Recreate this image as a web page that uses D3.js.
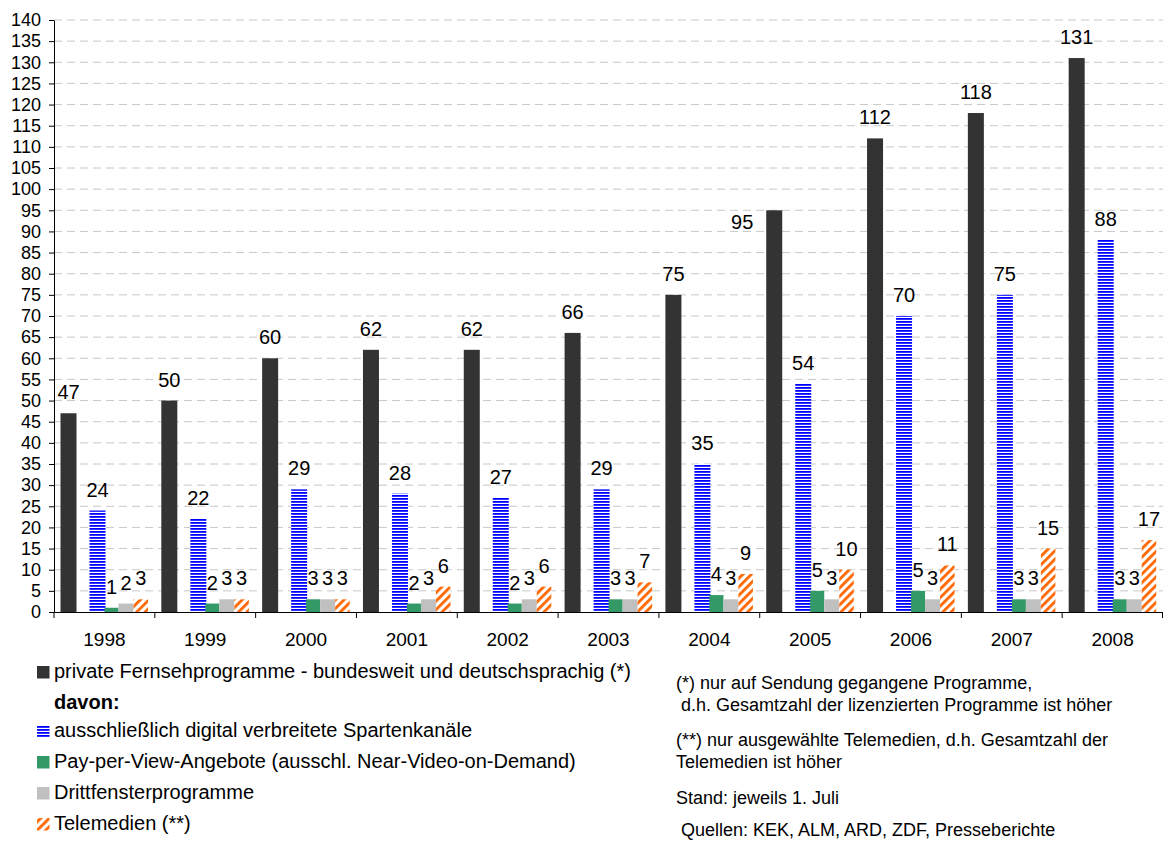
<!DOCTYPE html>
<html>
<head>
<meta charset="utf-8">
<script src="https://cdn.jsdelivr.net/npm/d3@7"></script>
<style>
  body { margin: 0; background: #fff; }
  text { font-family: "Liberation Sans", Arial, sans-serif; fill: #000; }
</style>
</head>
<body>
<div class="chart"></div>
<script>
// data
const years = ['1998','1999','2000','2001','2002','2003','2004','2005','2006','2007','2008'];
const privat = [47, 50, 60, 62, 62, 66, 75, 95, 112, 118, 131];
const digital = [24, 22, 29, 28, 27, 29, 35, 54, 70, 75, 88];
const payPerView = [1, 2, 3, 2, 2, 3, 4, 5, 5, 3, 3];
const drittfenster = [2, 3, 3, 3, 3, 3, 3, 3, 3, 3, 3];
const telemedien = [3, 3, 3, 6, 6, 7, 9, 10, 11, 15, 17];
const yTicks = d3.range(0, 141, 5);

const legendLabels = [
  'private Fernsehprogramme - bundesweit und deutschsprachig (*)',
  'ausschließlich digital verbreitete Spartenkanäle',
  'Pay-per-View-Angebote (ausschl. Near-Video-on-Demand)',
  'Drittfensterprogramme',
  'Telemedien (**)'
];
const notes = [
  '(*) nur auf Sendung gegangene Programme,',
  ' d.h. Gesamtzahl der lizenzierten Programme ist höher',
  '(**) nur ausgewählte Telemedien, d.h. Gesamtzahl der',
  'Telemedien ist höher',
  'Stand: jeweils 1. Juli',
  ' Quellen: KEK, ALM, ARD, ZDF, Presseberichte'
];

const WIDTH = 1163, HEIGHT = 841;
const PLOT = {left: 54, right: 1163, top: 20, bottom: 612};

let svg = d3.select('.chart').append('svg')
  .attr('width', WIDTH)
  .attr('height', HEIGHT);

// patterns
const defs = svg.append('defs');
const pBlue = defs.append('pattern')
  .attr('id', 'blueStripes')
  .attr('patternUnits', 'userSpaceOnUse')
  .attr('width', 6).attr('height', 3);
pBlue.append('rect').attr('width', 6).attr('height', 3).attr('fill', '#fff');
pBlue.append('rect').attr('width', 6).attr('height', 1.8).attr('fill', '#0000ff');

const pOrange = defs.append('pattern')
  .attr('id', 'orangeDiag')
  .attr('patternUnits', 'userSpaceOnUse')
  .attr('width', 6).attr('height', 6)
  .attr('patternTransform', 'rotate(45)');
pOrange.append('rect').attr('width', 6).attr('height', 6).attr('fill', '#fff');
pOrange.append('rect').attr('width', 2.8).attr('height', 6).attr('fill', '#ff6600');

// scales
let x = d3.scaleBand().domain(years).range([PLOT.left, PLOT.right]).padding(0);
let y = d3.scaleLinear().domain([0, 140]).range([PLOT.bottom, PLOT.top]);
const bw = x.bandwidth();
const k = bw / 100.8;

// series: offset/width inside the category (px at 100.8 band)
const series = [
  {values: privat, fill: '#333333', off: 6.5, w: 16},
  {values: digital, fill: 'url(#blueStripes)', off: 35.5, w: 16},
  {values: payPerView, fill: '#339966', off: 50.5, w: 14},
  {values: drittfenster, fill: '#c0c0c0', off: 64.5, w: 15},
  {values: telemedien, fill: 'url(#orangeDiag)', off: 79.5, w: 14.5}
];

// gridlines
svg.append('g').selectAll('line')
  .data(yTicks.filter(d => d > 0))
  .enter().append('line')
  .attr('x1', PLOT.left).attr('x2', PLOT.right)
  .attr('y1', d => y(d)).attr('y2', d => y(d))
  .attr('stroke', '#c8c8c8')
  .attr('stroke-width', 1)
  .attr('stroke-dasharray', '8,5');

// bars + labels
series.forEach(function(s, si) {
  let g = svg.append('g');
  g.selectAll('rect')
    .data(s.values)
    .enter().append('rect')
    .attr('x', (d, i) => x(years[i]) + s.off * k)
    .attr('y', d => y(d))
    .attr('width', s.w * k)
    .attr('height', d => y(0) - y(d))
    .attr('fill', s.fill);

  // the 2005 label sits left of its bar in the original
  const moved = (i) => si === 0 && years[i] === '2005';
  g.selectAll('text')
    .data(s.values)
    .enter().append('text')
    .attr('x', (d, i) => x(years[i]) + (s.off + s.w / 2) * k - (moved(i) ? 32 : 0))
    .attr('y', (d, i) => moved(i) ? y(d) + 19 : y(d) - 14)
    .attr('text-anchor', 'middle')
    .style('font-size', '20px')
    .text(d => d);
});

// y axis
let leftAxis = d3.axisLeft(y).tickValues(yTicks).tickSize(5).tickSizeOuter(0);
let yAxisG = svg.append('g')
  .attr('transform', `translate(${PLOT.left},0)`)
  .call(leftAxis);
yAxisG.selectAll('text').style('font-size', '18px')
  .style('font-family', '"Liberation Sans", Arial, sans-serif')
  .attr('x', -13);
yAxisG.select('.domain').attr('stroke', '#000');

// x axis
let bottomAxis = d3.axisBottom(x).tickSize(0).tickSizeOuter(0);
let xAxisG = svg.append('g')
  .attr('transform', `translate(0,${PLOT.bottom})`)
  .call(bottomAxis);
xAxisG.selectAll('text').style('font-size', '19px')
  .style('font-family', '"Liberation Sans", Arial, sans-serif')
  .attr('y', 21);
xAxisG.select('.domain').attr('stroke', '#000');
xAxisG.selectAll('line.bound')
  .data(years.map(d => x(d)).concat([PLOT.right - 0.5]))
  .enter().append('line')
  .attr('class', 'bound')
  .attr('x1', d => d).attr('x2', d => d)
  .attr('y1', 0).attr('y2', 6)
  .attr('stroke', '#000');

// legend
const legendRows = [672, 731, 762, 793, 824];
let lg = svg.append('g');
legendRows.forEach(function(ry, i) {
  lg.append('rect')
    .attr('x', 37).attr('y', ry - 6)
    .attr('width', 12.5).attr('height', 12.5)
    .attr('fill', series[i].fill);
  lg.append('text')
    .attr('x', 54).attr('y', ry + 6)
    .style('font-size', '20px')
    .text(legendLabels[i]);
});
lg.append('text')
  .attr('x', 54).attr('y', 709)
  .style('font-size', '20px')
  .style('font-weight', 'bold')
  .text('davon:');

// notes
const noteRows = [689, 711, 746, 768, 804, 836];
svg.append('g').selectAll('text')
  .data(notes)
  .enter().append('text')
  .attr('x', 676)
  .attr('y', (d, i) => noteRows[i])
  .style('font-size', '18px')
  .attr('xml:space', 'preserve')
  .text(d => d);
</script>
</body>
</html>
